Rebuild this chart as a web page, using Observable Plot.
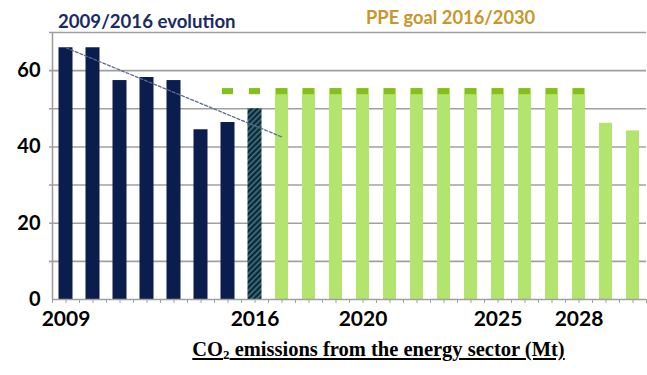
<!DOCTYPE html>
<html><head><meta charset="utf-8">
<script src="https://cdn.jsdelivr.net/npm/d3@7"></script>
<script src="https://cdn.jsdelivr.net/npm/@observablehq/plot@0.6"></script>
<style>
body{margin:0;background:#fff;}
#wrap{position:relative;width:647px;height:375px;font-family:Lato,"Open Sans",sans-serif;}
.t{position:absolute;font-weight:700;white-space:nowrap;}
</style></head><body><div id="wrap"></div>
<script>
// Data
const histYears = [2009, 2010, 2011, 2012, 2013, 2014, 2015];
const histValues = [66, 66, 57.4, 58.2, 57.4, 44.5, 46.4];
const estYears = [2016];
const estValues = [50];
const goalYears = [2017, 2018, 2019, 2020, 2021, 2022, 2023, 2024, 2025, 2026, 2027, 2028, 2029, 2030];
const goalValues = [55.3, 55.3, 55.3, 55.3, 55.3, 55.3, 55.3, 55.3, 55.3, 55.3, 55.3, 55.3, 46.2, 44.2];
const capYears = [2015, 2016, 2017, 2018, 2019, 2020, 2021, 2022, 2023, 2024, 2025, 2026, 2027, 2028];
const capLow = 53.7, capHigh = 55.3;
const trendYears = [2009, 2017];
const trendValues = [66, 42.6];
const xTickLabels = [2009, 2016, 2020, 2025, 2028];
const yTickLabels = [0, 20, 40, 60];
const yGrid = [10, 20, 30, 40, 50, 60, 70];
const title1 = "2009/2016 evolution";
const title2 = "PPE goal 2016/2030";
const caption = "emissions from the energy sector (Mt)";

const hist = histYears.map((y, i) => ({year: y, value: histValues[i]}));
const est = estYears.map((y, i) => ({year: y, value: estValues[i]}));
const goal = goalYears.map((y, i) => ({year: y, value: goalValues[i]}));
const caps = capYears.map(y => ({year: y, lo: capLow, hi: capHigh}));
const trend = trendYears.map((y, i) => ({year: y, value: trendValues[i]}));

const gray = "#a0a0a0";

const chart = Plot.plot({
  width: 647, height: 375,
  marginTop: 32, marginBottom: 76, marginLeft: 52, marginRight: 1,
  style: {fontFamily: "Lato, 'Open Sans', sans-serif", background: "#fff"},
  x: {type: "linear", domain: [2008.5, 2030.5], axis: null, label: null},
  y: {type: "linear", domain: [0, 70], axis: null, label: null},
  marks: [
    Plot.ruleY(yGrid, {stroke: gray, strokeWidth: 1.6, insetLeft: -3}),
    Plot.ruleX([2008.5], {y1: 0, y2: 70, stroke: gray, strokeWidth: 1.6}),
    Plot.rectY(hist, {x1: d => d.year - 0.5, x2: d => d.year + 0.5, y: "value", fill: "#0b1d4c", insetLeft: 6.5, insetRight: 6.5}),
    Plot.rectY(est, {x1: d => d.year - 0.5, x2: d => d.year + 0.5, y: "value", fill: "url(#hatch)", insetLeft: 6.5, insetRight: 6.5}),
    Plot.rectY(goal, {x1: d => d.year - 0.5, x2: d => d.year + 0.5, y: "value", fill: "#b3e46e", insetLeft: 7, insetRight: 7}),
    Plot.rect(caps, {x1: d => d.year - 0.5, x2: d => d.year + 0.5, y1: "lo", y2: "hi", fill: "#86bf1c", insetLeft: 8, insetRight: 8}),
    Plot.line(trend, {x: "year", y: "value", stroke: "#5a6b8f", strokeWidth: 1.3, strokeDasharray: "3,2"}),
    Plot.ruleY([0], {stroke: gray, strokeWidth: 1.6}),
    Plot.axisX({ticks: d3.range(2008.5, 2030.51, 0.5), tickSize: 4, tickFormat: () => "", stroke: gray, label: null}),
    Plot.text(xTickLabels, {x: d => d, y: 0, text: d => String(d), dy: 20, fontWeight: "bold", fontSize: 21, fill: "#000"}),
    Plot.text(yTickLabels, {x: 2008.5, y: d => d, text: d => String(d), dx: -12, textAnchor: "end", fontWeight: "bold", fontSize: 20, fill: "#000"})
  ]
});
// hatch pattern
const ns = "http://www.w3.org/2000/svg";
const defs = document.createElementNS(ns, "defs");
defs.innerHTML = `<pattern id="hatch" patternUnits="userSpaceOnUse" width="4" height="4" patternTransform="rotate(45)">
<rect width="4" height="4" fill="#0e2340"/><rect width="1.6" height="4" fill="#3f7a70"/></pattern>`;
chart.insertBefore(defs, chart.firstChild);
const wrap = document.getElementById("wrap");
wrap.appendChild(chart);

function addText(txt, style) {
  const d = document.createElement("div");
  d.className = "t";
  Object.assign(d.style, style);
  d.textContent = txt;
  wrap.appendChild(d);
  return d;
}
addText(title1, {left: "58px", top: "10px", fontSize: "18.6px", color: "#1b2a63"});
addText(title2, {left: "366px", top: "6px", fontSize: "18.3px", color: "#c8962a"});
const cap = document.createElement("div");
cap.className = "t";
Object.assign(cap.style, {left: "0px", width: "757px", top: "338px", textAlign: "center", fontFamily: "'Liberation Serif', 'Times New Roman', serif", fontSize: "20.5px", textDecoration: "underline", color: "#000"});
cap.innerHTML = "CO<sub style='font-size:13px;vertical-align:-3px'>2</sub> " + caption;
wrap.appendChild(cap);
</script></body></html>
